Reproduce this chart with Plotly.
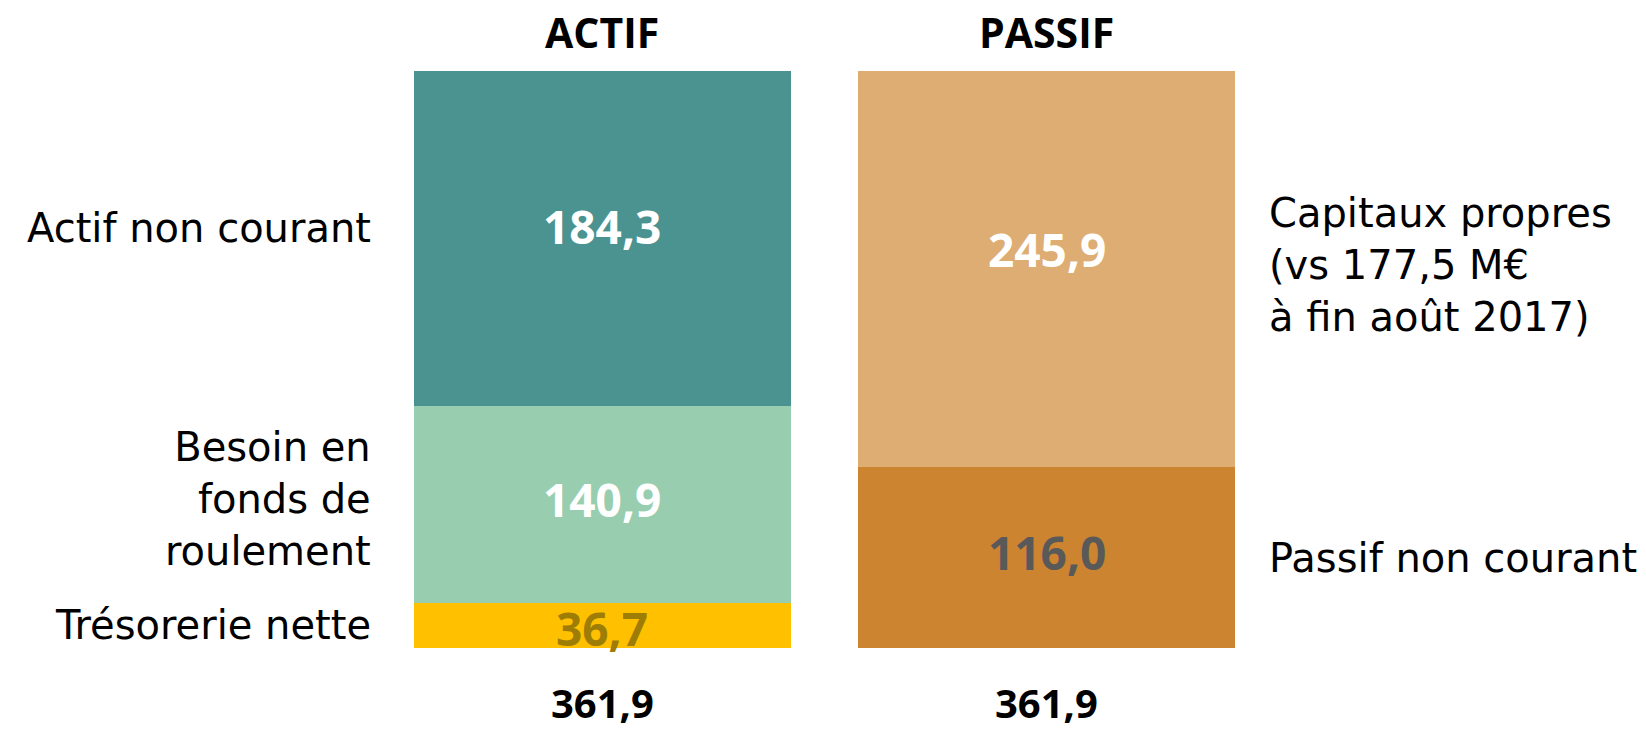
import plotly.graph_objects as go

# Bilan simplifié (M€)
columns = ["ACTIF", "PASSIF"]

actif_labels = ["Trésorerie nette", "Besoin en<br>fonds de<br>roulement", "Actif non courant"]
actif_values = ["36,7", "140,9", "184,3"]
actif_heights = [28.2, 123.6, 210.1]  # as drawn in the picture
actif_colors = ["#FFC000", "#98CEAF", "#4B9390"]
actif_text_colors = ["#9E7D06", "#FFFFFF", "#FFFFFF"]

passif_labels = ["Passif non courant", "Capitaux propres<br>(vs 177,5 M€<br>à fin août 2017)"]
passif_values = ["116,0", "245,9"]
passif_heights = [113.5, 248.4]
passif_colors = ["#CC8431", "#DEAD73"]
passif_text_colors = ["#595959", "#FFFFFF"]

totals = ["361,9", "361,9"]

LABEL_FONT = "DejaVu Sans"
NUM_FONT = "Open Sans"
top = sum(actif_heights)

fig = go.Figure()


def add_column(col, labels, heights, values, colors, tcolors, left, value_shifts, label_shifts):
    base = 0
    for lab, h, v, c, tc, vs, ls in zip(labels, heights, values, colors, tcolors,
                                        value_shifts, label_shifts):
        fig.add_trace(go.Bar(
            x=[col], y=[h], marker_color=c, marker_line_width=0, width=0.848,
            hoverinfo="skip", showlegend=False,
        ))
        # value inside the segment
        fig.add_annotation(x=col, y=base + h / 2, text="<b>%s</b>" % v, showarrow=False,
                           yanchor="middle", yshift=vs,
                           font=dict(family=NUM_FONT, size=46, color=tc))
        # name beside the segment
        fig.add_annotation(
            xref="paper", x=0 if left else 1, y=base + h / 2, text=lab,
            showarrow=False, xanchor="right" if left else "left",
            align="right" if left else "left",
            xshift=-7 if left else -2, yshift=ls, yanchor="middle",
            font=dict(family=LABEL_FONT, size=40, color="#000000"),
        )
        base += h


add_column(columns[0], actif_labels, actif_heights, actif_values, actif_colors,
           actif_text_colors, True, [-2, 6, 12], [1, 6, 10])
add_column(columns[1], passif_labels, passif_heights, passif_values, passif_colors,
           passif_text_colors, False, [6, 20], [0, 4])

# column headers and totals
for col, tot in zip(columns, totals):
    fig.add_annotation(x=col, y=top, text="<b>%s</b>" % col, showarrow=False,
                       yanchor="middle", yshift=39,
                       font=dict(family=NUM_FONT, size=41, color="#000000"))
    fig.add_annotation(x=col, y=0, text="<b>%s</b>" % tot, showarrow=False,
                       yanchor="middle", yshift=-54, borderpad=0,
                       font=dict(family=NUM_FONT, size=40, color="#000000"))

fig.update_layout(
    barmode="stack",
    width=1646, height=731,
    margin=dict(l=380, r=377, t=71, b=83),
    paper_bgcolor="white", plot_bgcolor="white",
    xaxis=dict(visible=False, range=[-0.5, 1.5]),
    yaxis=dict(visible=False, range=[0, top]),
)

# drop the page's default body margin so the figure fills the window
fig.write_html("out.html", config={"displayModeBar": False},
               post_script="document.body.style.margin='0';")
